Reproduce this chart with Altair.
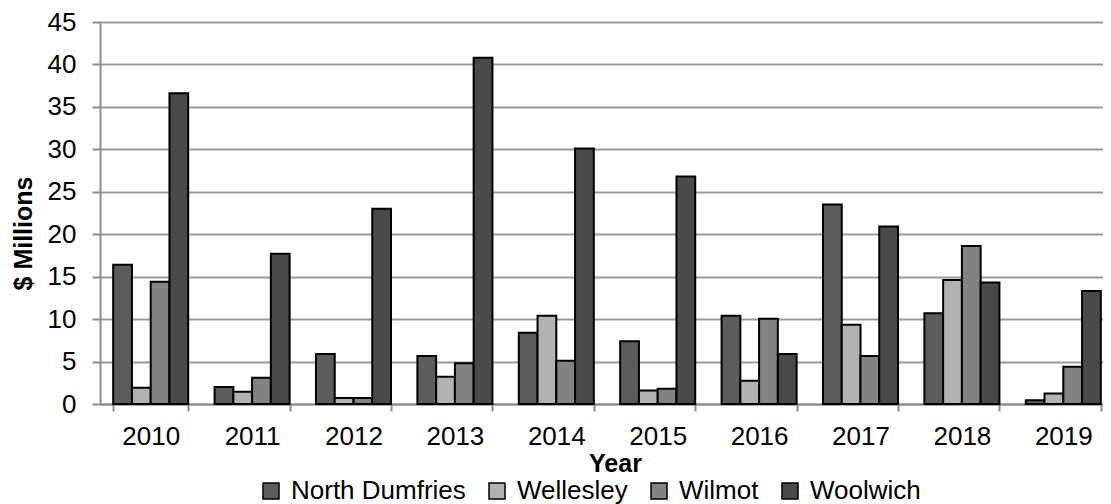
import altair as alt
import pandas as pd

years = ["2010", "2011", "2012", "2013", "2014", "2015", "2016", "2017", "2018", "2019"]
municipalities = ["North Dumfries", "Wellesley", "Wilmot", "Woolwich"]
north_dumfries = [16.4, 2.0, 5.9, 5.65, 8.4, 7.4, 10.4, 23.5, 10.7, 0.45]
wellesley = [1.9, 1.45, 0.7, 3.2, 10.4, 1.6, 2.75, 9.35, 14.6, 1.25]
wilmot = [14.4, 3.1, 0.7, 4.8, 5.1, 1.8, 10.05, 5.65, 18.6, 4.4]
woolwich = [36.6, 17.7, 23.0, 40.8, 30.1, 26.8, 5.9, 20.9, 14.3, 13.3]
colors = ["#5c5c5c", "#b2b2b2", "#838383", "#4a4a4a"]
y_ticks = [0, 5, 10, 15, 20, 25, 30, 35, 40, 45]

series = [north_dumfries, wellesley, wilmot, woolwich]
rows = []
for m, vals in zip(municipalities, series):
    for y, v in zip(years, vals):
        rows.append({"Year": y, "Municipality": m, "Value": v})
df = pd.DataFrame(rows)

FONT = "Liberation Sans"

chart = alt.Chart(df).mark_bar(stroke="black", strokeWidth=2).encode(
    x=alt.X(
        "Year:N",
        sort=years,
        scale=alt.Scale(paddingInner=0.26, paddingOuter=0.13, range=[0, 1014]),
        axis=alt.Axis(
            title="Year",
            titleFont=FONT, titleFontSize=25, titleFontWeight="bold", titleColor="black",
            titlePadding=2, titleX=515,
            labelFont=FONT, labelFontSize=26, labelColor="black", labelAngle=0,
            labelPadding=12,
            tickBand="extent", ticks=True, tickSize=7, tickColor="#8c8c8c", tickWidth=2,
            domainColor="#8c8c8c", domainWidth=2, grid=False,
        ),
    ),
    xOffset=alt.XOffset("Municipality:N", sort=municipalities,
                        scale=alt.Scale(paddingInner=0, paddingOuter=0)),
    y=alt.Y(
        "Value:Q",
        scale=alt.Scale(domain=[0, 45], nice=False),
        axis=alt.Axis(
            values=y_ticks,
            title="$ Millions",
            titleFont=FONT, titleFontSize=25, titleFontWeight="bold", titleColor="black",
            titlePadding=11, titleY=211,
            labelFont=FONT, labelFontSize=26, labelColor="black", labelPadding=16,
            tickSize=8, tickColor="#8c8c8c", tickWidth=2,
            domainColor="#8c8c8c", domainWidth=2,
            gridColor="#9a9a9a", gridWidth=2,
        ),
    ),
    color=alt.Color(
        "Municipality:N",
        sort=municipalities,
        scale=alt.Scale(domain=municipalities, range=colors),
        legend=alt.Legend(
            title=None, orient="none", direction="horizontal",
            legendX=158, legendY=456,
            symbolType="square", symbolSize=256,
            symbolStrokeColor="black", symbolStrokeWidth=1.5, symbolOpacity=1,
            labelFont=FONT, labelFontSize=26, labelColor="black", labelLimit=400,
            labelOffset=7, columnPadding=18,
        ),
    ),
).properties(
    width=1003,
    height=382,
    autosize=alt.AutoSizeParams(type="none"),
    padding={"left": 92, "top": 14, "right": 0, "bottom": 100},
).configure_view(stroke=None)

chart.save("out.html", embed_options={"renderer": "svg", "actions": False})
